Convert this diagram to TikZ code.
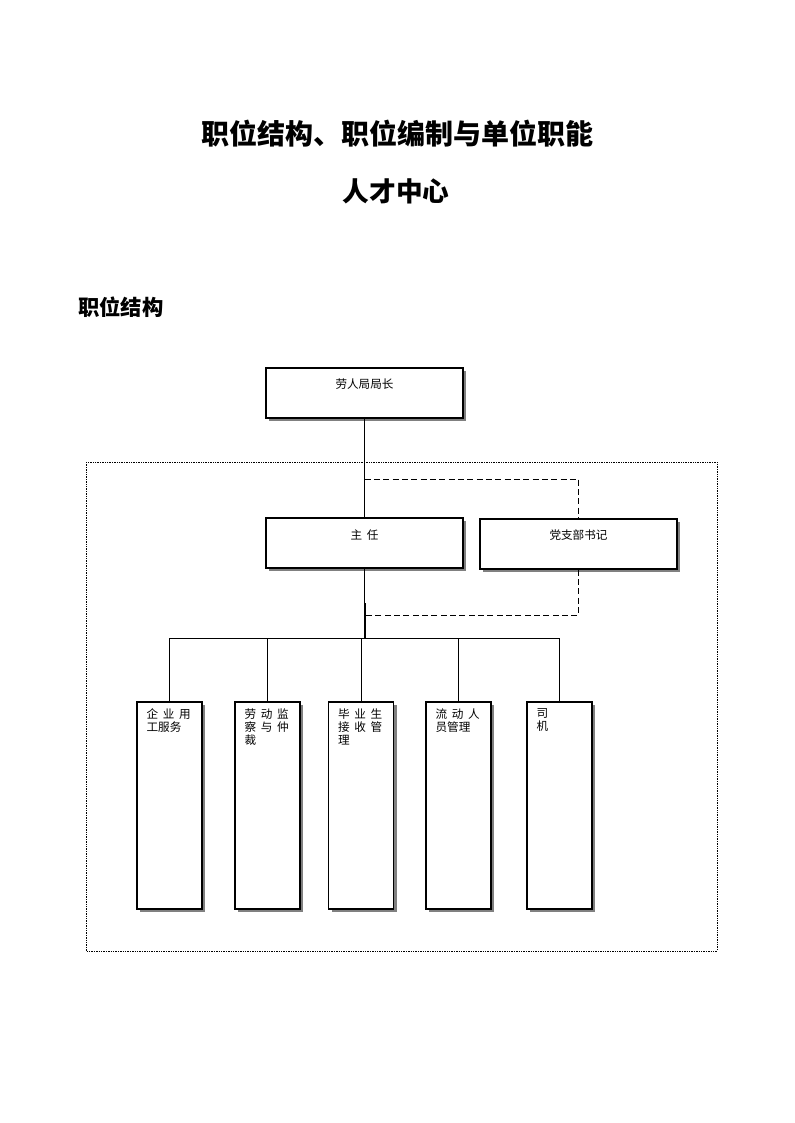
\documentclass[tikz,border=0pt]{standalone}
\usepackage{fontspec}
\setmainfont{Noto Sans CJK SC}
\usetikzlibrary{positioning,shadows}
\tikzset{
    unit box/.style={draw,line width=1pt,fill=white,inner sep=0pt,
        minimum width=147.75pt,minimum height=37.5pt,
        drop shadow={shadow xshift=2.6pt,shadow yshift=-2.6pt,fill=gray,opacity=1}},
    post box/.style={unit box,minimum width=48.75pt,minimum height=155.25pt},
    box text/.style={font=\fontsize{8.7}{9.75}\selectfont,inner sep=0pt},
    post text/.style={box text,anchor=north west,align=left},
    connector/.style={line width=0.75pt},
    dash connector/.style={connector,dash pattern=on 4.5pt off 2.5pt},
    frame/.style={line width=0.6pt,dash pattern=on 1pt off 0.8pt},
}
\newcommand{\gp}{\hspace{3.5pt}}

\begin{document}
\begin{tikzpicture}[x=0.75pt,y=-0.75pt]
    \useasboundingbox[fill=white] (0,0) rectangle (794,1123);
    % headings
    \node[font=\fontsize{21}{25}\selectfont\bfseries] (title) at (397,134) {职位结构、职位编制与单位职能};
    \node[font=\fontsize{20}{24}\selectfont\bfseries] (subtitle) at (396,191) {人才中心};
    \node[font=\fontsize{16}{20}\selectfont\bfseries,anchor=west,inner sep=0pt] (section) at (78,307) {职位结构};
    % dotted frame of the centre
    \draw[frame] (86,462) rectangle (717,951);
    % upper boxes
    \node[unit box] (juzhang) at (364.5,393) {};
    \node[box text] (juzhang text) at ([yshift=-12.75pt]juzhang.north) {劳人局局长};
    \node[unit box] (zhuren) at (364.5,543) {};
    \node[box text] (zhuren text) at ([yshift=-13pt]zhuren.north) {主\gp 任};
    \node[unit box] (dangzhi) at (578.5,544) {};
    \node[box text] (dangzhi text) at ([yshift=-12.75pt]dangzhi.north) {党支部书记};
    % lower boxes
    \node[post box] (qiye) at (169.5,805.5) {};
    \node[post box] (laodong) at (267.5,805.5) {};
    \node[post box] (biye) at (361,805.5) {};
    \node[post box] (liudong) at (458.5,805.5) {};
    \node[post box] (siji) at (559.5,805.5) {};
    \node[post text] (qiye text) at ([xshift=7.5pt,yshift=-5pt]qiye.north west) {企\gp 业\gp 用\\工服务};
    \node[post text] (laodong text) at ([xshift=7.5pt,yshift=-5pt]laodong.north west) {劳\gp 动\gp 监\\察\gp 与\gp 仲\\裁};
    \node[post text] (biye text) at ([xshift=7.5pt,yshift=-5pt]biye.north west) {毕\gp 业\gp 生\\接\gp 收\gp 管\\理};
    \node[post text] (liudong text) at ([xshift=7.5pt,yshift=-5pt]liudong.north west) {流\gp 动\gp 人\\员管理};
    \node[post text] (siji text) at ([xshift=7.5pt,yshift=-5pt]siji.north west) {司\\机};
    % connectors
    \coordinate (dash top) at (364.5,479);
    \coordinate (dash bottom) at (366,615);
    \coordinate (bus) at (364.5,638);
    \draw[connector] (juzhang.south) -- (zhuren.north);
    \draw[dash connector] (dash top) -| (dangzhi.north);
    \draw[connector] (zhuren.south) -- (bus);
    \draw[line width=1.5pt] ([yshift=26pt]bus) -- (bus);
    \draw[dash connector] (dangzhi.south) |- (dash bottom);
    \draw[connector] (bus -| qiye.north) -- (bus -| siji.north);
    \draw[connector] (bus -| qiye.north) -- (qiye.north);
    \draw[connector] (bus -| laodong.north) -- (laodong.north);
    \draw[connector] (bus -| biye.north) -- (biye.north);
    \draw[connector] (bus -| liudong.north) -- (liudong.north);
    \draw[connector] (bus -| siji.north) -- (siji.north);
\end{tikzpicture}
\end{document}
